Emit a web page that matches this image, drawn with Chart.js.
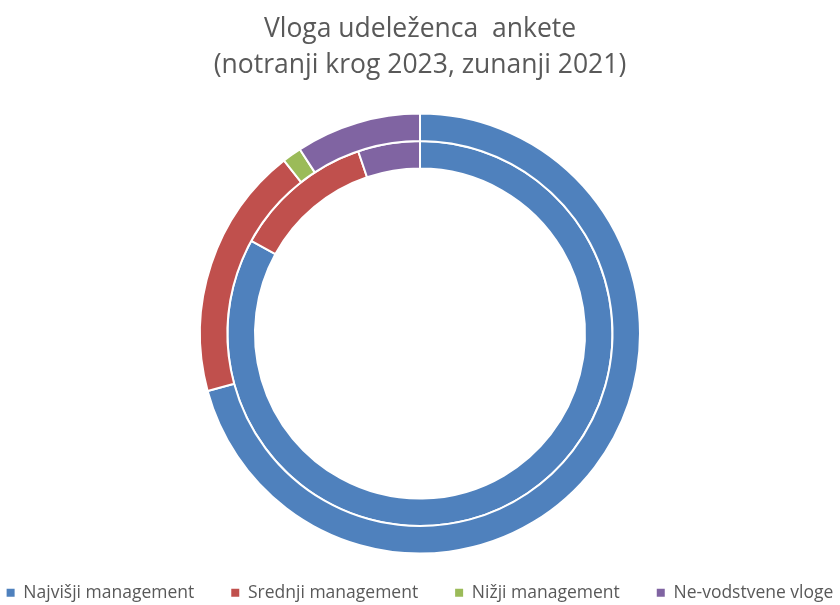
<!DOCTYPE html>
<html>
<head>
<meta charset="utf-8">
<script src="https://cdn.jsdelivr.net/npm/chart.js@4/dist/chart.umd.min.js"></script>
<style>
  html, body { margin: 0; padding: 0; background: #fff; overflow: hidden; width: 840px; height: 605px; }
  #wrap { position: absolute; left: -80px; top: 0; width: 1000px; height: 605px; }
</style>
</head>
<body>
<div id="wrap"><canvas id="roles" width="1000" height="605"></canvas></div>
<script>
// vloge udeležencev, v odstotkih
const roles = ['Najvišji management', 'Srednji management', 'Nižji management', 'Ne-vodstvene vloge']
const share2021 = [70.8, 18.6, 1.4, 9.2]   // zunanji krog
const share2023 = [83.0, 11.8, 0, 5.2]     // notranji krog
const colors = ['#4F81BD', '#C0504D', '#9BBB59', '#8064A2']

const grey = '#595959'

var config = {
    type: 'doughnut',
    data: {
        labels: roles,
        datasets: [
            { label: '2021', data: share2021, backgroundColor: colors },
            { label: '2023', data: share2023, backgroundColor: colors }
        ]
    },
    options: {
        responsive: false,
        animation: false,
        radius: 220,
        cutout: '75%',
        borderColor: '#ffffff',
        borderWidth: 2,
        hoverOffset: 0,
        plugins: {
            title: {
                display: true,
                text: ['Vloga udeleženca  ankete', '(notranji krog 2023, zunanji 2021)'],
                color: grey,
                font: { family: 'Open Sans', size: 26.5, weight: 'normal', lineHeight: 1.38 },
                padding: { top: 11, bottom: 36 }
            },
            legend: {
                position: 'bottom',
                maxHeight: 58,
                labels: {
                    color: grey,
                    font: { family: 'Open Sans', size: 17.5 },
                    boxWidth: 8,
                    boxHeight: 8,
                    padding: 37,
                    generateLabels: chart =>
                        Chart.overrides.doughnut.plugins.legend.labels.generateLabels(chart)
                            .map(item => ({ ...item, lineWidth: 0 }))
                }
            },
            tooltip: { enabled: false }
        }
    }
}

new Chart(document.getElementById('roles'), config)
</script>
</body>
</html>
